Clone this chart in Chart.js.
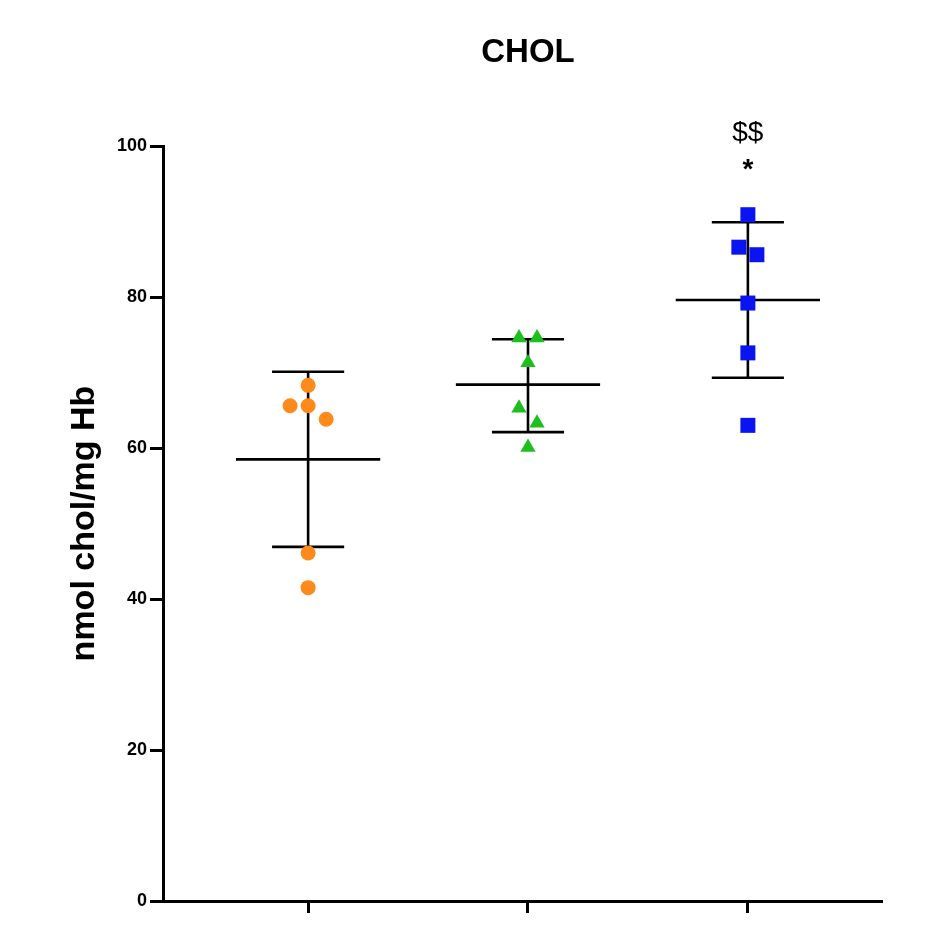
<!DOCTYPE html>
<html><head><meta charset="utf-8">
<script src="https://cdn.jsdelivr.net/npm/chart.js@4.4.1/dist/chart.umd.min.js"></script>
<style>html,body{margin:0;padding:0;background:#fff}#wrap{width:928px;height:946px}</style>
</head><body><div id="wrap"><canvas id="c" width="928" height="946"></canvas></div>
<script>
// ---- data ----
const chartTitle = 'CHOL';
const yTitle = 'nmol chol/mg Hb';
const groupPos = [1, 2, 3];
const group1 = [68.3, 65.6, 65.6, 63.8, 46.1, 41.5];
const group1Slot = [0, -1, 0, 1, 0, 0];
const group2 = [74.6, 74.6, 71.3, 65.3, 63.3, 60.1];
const group2Slot = [-0.5, 0.5, 0, -0.5, 0.5, 0];
const group3 = [90.9, 86.6, 85.6, 79.2, 72.6, 63.0];
const group3Slot = [0, -0.5, 0.5, 0, 0, 0];
const means = [58.5, 68.4, 79.6];
const sdLow = [46.9, 62.1, 69.3];
const sdHigh = [70.1, 74.4, 89.9];
const yTicks = [0, 20, 40, 60, 80, 100];
const annotText = ['$$', '*'];
const annotY = [101.7, 97.4];
const annotGroup = 3;

// ---- styles ----
const SLOT = 0.082, MEAN_HALF = 0.328, CAP_HALF = 0.164;
const colors = ['#FF8A1C', '#1CBF1C', '#0A14F2'];
const styles = ['circle', 'triangle', 'rect'];
const radii = [7.5, 8.8, 10.6];
const FONT = '"Liberation Sans", Arial, sans-serif';

const groups = [group1, group2, group3];
const slots = [group1Slot, group2Slot, group3Slot];

const datasets = [];
groups.forEach((vals, g) => {
  datasets.push({
    type: 'scatter',
    data: vals.map((v, i) => ({x: groupPos[g] + slots[g][i] * SLOT, y: v})),
    backgroundColor: colors[g], borderColor: colors[g], borderWidth: 0,
    pointStyle: styles[g], pointRadius: radii[g], pointHoverRadius: radii[g],
    order: 0
  });
});
groupPos.forEach((p, g) => {
  datasets.push({
    type: 'line',
    data: [
      {x: p - MEAN_HALF, y: means[g]}, {x: p + MEAN_HALF, y: means[g]}, {x: p, y: null},
      {x: p - CAP_HALF, y: sdHigh[g]}, {x: p + CAP_HALF, y: sdHigh[g]}, {x: p, y: null},
      {x: p, y: sdHigh[g]}, {x: p, y: sdLow[g]}, {x: p, y: null},
      {x: p - CAP_HALF, y: sdLow[g]}, {x: p + CAP_HALF, y: sdLow[g]}
    ],
    borderColor: '#000', borderWidth: 2.6, pointRadius: 0, spanGaps: false,
    fill: false, order: 5
  });
});

const annotPlugin = {
  id: 'annot',
  afterDatasetsDraw(chart) {
    const {ctx, scales} = chart;
    ctx.save();
    ctx.fillStyle = '#000';
    ctx.textAlign = 'center';
    ctx.textBaseline = 'middle';
    ctx.font = 'bold 33px ' + FONT;
    ctx.fillText(chartTitle, 528, 53);
    const ax = scales.x.getPixelForValue(annotGroup);
    ctx.font = '28px ' + FONT;
    ctx.fillText(annotText[0], ax, scales.y.getPixelForValue(annotY[0]));
    ctx.font = 'bold 28px ' + FONT;
    ctx.fillText(annotText[1], ax, scales.y.getPixelForValue(annotY[1]) + 5);
    ctx.restore();
  }
};

new Chart(document.getElementById('c'), {
  data: {datasets},
  plugins: [annotPlugin],
  options: {
    responsive: false, animation: false,
    layout: {padding: {left: 0, right: 46, top: 146, bottom: 0}},
    plugins: {
      legend: {display: false}, tooltip: {enabled: false},
      title: {display: false}
    },
    scales: {
      x: {
        type: 'linear', min: 0.34, max: 3.61,
        afterBuildTicks: s => { s.ticks = groupPos.map(v => ({value: v})); },
        afterFit: s => { s.height = 45; },
        ticks: {callback: () => '', padding: 0},
        grid: {drawOnChartArea: false, drawTicks: true, tickLength: 12, tickWidth: 3, tickColor: '#000'},
        border: {color: '#000', width: 3}
      },
      y: {
        min: 0, max: 100,
        afterBuildTicks: s => { s.ticks = yTicks.map(v => ({value: v})); },
        afterFit: s => { s.width = 163; },
        ticks: {color: '#000', padding: 3,
          font: {family: FONT, size: 18, weight: 'bold'}},
        grid: {drawOnChartArea: false, drawTicks: true, tickLength: 13, tickWidth: 3, tickColor: '#000'},
        border: {color: '#000', width: 3},
        title: {display: true, text: yTitle, color: '#000',
          font: {family: FONT, size: 34, weight: 'bold'},
          padding: {top: 64, bottom: 0}}
      }
    }
  }
});
</script></body></html>
